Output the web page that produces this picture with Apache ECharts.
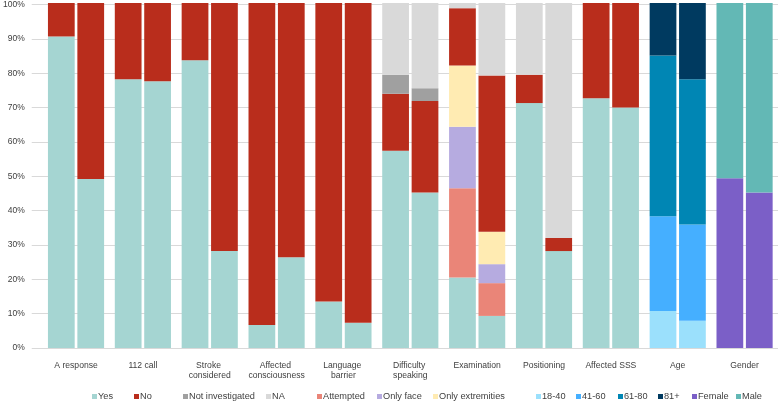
<!DOCTYPE html>
<html>
<head>
<meta charset="utf-8">
<script src="https://cdn.jsdelivr.net/npm/echarts@6/dist/echarts.min.js"></script>
<style>
html,body{margin:0;padding:0;background:#fff;}
#c{width:778px;height:403px;}
</style>
</head>
<body>
<div id="c"></div>
<script>
var categories = ['A response','112 call','Stroke considered','Affected consciousness','Language barrier','Difficulty speaking','Examination','Positioning','Affected SSS','Age','Gender'];
var yTicks = [0,10,20,30,40,50,60,70,80,90,100];

// first bar of each pair
var yes1       = [90.3, 77.9, 83.4,  6.7, 13.5, 57.2, 20.4, 71.0, 72.4, 0, 0];
var no1        = [ 9.7, 22.1, 16.6, 93.3, 86.5, 16.5, 16.6,  8.2, 27.6, 0, 0];
var notInv1    = [0, 0, 0, 0, 0, 5.5, 0, 0, 0, 0, 0];
var na1        = [0, 0, 0, 0, 0, 20.8, 1.5, 20.8, 0, 0, 0];
var attempted1 = [0, 0, 0, 0, 0, 0, 25.9, 0, 0, 0, 0];
var onlyFace1  = [0, 0, 0, 0, 0, 0, 17.8, 0, 0, 0, 0];
var onlyExt1   = [0, 0, 0, 0, 0, 0, 17.8, 0, 0, 0, 0];
var age18_1    = [0, 0, 0, 0, 0, 0, 0, 0, 0, 10.7, 0];
var age41_1    = [0, 0, 0, 0, 0, 0, 0, 0, 0, 27.5, 0];
var age61_1    = [0, 0, 0, 0, 0, 0, 0, 0, 0, 46.6, 0];
var age81_1    = [0, 0, 0, 0, 0, 0, 0, 0, 0, 15.2, 0];
var female1    = [0, 0, 0, 0, 0, 0, 0, 0, 0, 0, 49.2];
var male1      = [0, 0, 0, 0, 0, 0, 0, 0, 0, 0, 50.8];

// second bar of each pair
var yes2       = [49.0, 77.3, 28.1, 26.3,  7.3, 45.1,  9.3, 28.1, 69.7, 0, 0];
var no2        = [51.0, 22.7, 71.9, 73.7, 92.7, 26.5, 45.3,  3.8, 30.3, 0, 0];
var notInv2    = [0, 0, 0, 0, 0, 3.7, 0, 0, 0, 0, 0];
var na2        = [0, 0, 0, 0, 0, 24.7, 21.0, 68.1, 0, 0, 0];
var attempted2 = [0, 0, 0, 0, 0, 0, 9.5, 0, 0, 0, 0];
var onlyFace2  = [0, 0, 0, 0, 0, 0, 5.5, 0, 0, 0, 0];
var onlyExt2   = [0, 0, 0, 0, 0, 0, 9.4, 0, 0, 0, 0];
var age18_2    = [0, 0, 0, 0, 0, 0, 0, 0, 0, 7.9, 0];
var age41_2    = [0, 0, 0, 0, 0, 0, 0, 0, 0, 27.9, 0];
var age61_2    = [0, 0, 0, 0, 0, 0, 0, 0, 0, 42.1, 0];
var age81_2    = [0, 0, 0, 0, 0, 0, 0, 0, 0, 22.1, 0];
var female2    = [0, 0, 0, 0, 0, 0, 0, 0, 0, 0, 45.1];
var male2      = [0, 0, 0, 0, 0, 0, 0, 0, 0, 0, 54.9];

var legendNames = ['Yes','No','Not investigated','NA','Attempted','Only face','Only extremities','18-40','41-60','61-80','81+','Female','Male'];

// stacking order bottom -> top
var stackDefs = [
  {name:'Yes', color:'#A5D5D2', a:yes1, b:yes2},
  {name:'Attempted', color:'#EA8578', a:attempted1, b:attempted2},
  {name:'Only face', color:'#B6ABE0', a:onlyFace1, b:onlyFace2},
  {name:'Only extremities', color:'#FFEBB2', a:onlyExt1, b:onlyExt2},
  {name:'No', color:'#B92D1C', a:no1, b:no2},
  {name:'Not investigated', color:'#A0A0A0', a:notInv1, b:notInv2},
  {name:'NA', color:'#D9D9D9', a:na1, b:na2},
  {name:'18-40', color:'#9BE0FC', a:age18_1, b:age18_2},
  {name:'41-60', color:'#45AFFF', a:age41_1, b:age41_2},
  {name:'61-80', color:'#0086B4', a:age61_1, b:age61_2},
  {name:'81+', color:'#003A60', a:age81_1, b:age81_2},
  {name:'Female', color:'#7B5FC7', a:female1, b:female2},
  {name:'Male', color:'#63B8B5', a:male1, b:male2}
];

var txt = '#404040';
var font = '"Liberation Sans", Arial, sans-serif';

var series = [];
stackDefs.forEach(function(d){
  series.push({name:d.name, type:'bar', stack:'first', xAxisIndex:0, yAxisIndex:0,
    barGap:'10%', barCategoryGap:'16%', itemStyle:{color:d.color}, data:d.a, animation:false});
});
stackDefs.forEach(function(d){
  series.push({name:d.name, type:'bar', stack:'second', xAxisIndex:0, yAxisIndex:0,
    barGap:'10%', barCategoryGap:'16%', itemStyle:{color:d.color}, data:d.b, animation:false});
});

var legendX = [92,134,183,266,317,377,433,536,576,618,658,692,736];
var legends = legendNames.map(function(n,i){
  return {data:[n], left:legendX[i], top:391, itemWidth:5, itemHeight:5, icon:'rect',
    padding:0, itemGap:0,
    textStyle:{color:txt, fontSize:9.2, fontFamily:font, lineHeight:11, padding:[0,0,0,-4]}};
});

var option = {
  backgroundColor:'#fff',
  animation:false,
  grid:[
    {left:42.6, right:-6.3, top:3, bottom:55},
    {left:28, right:0, top:3, bottom:55}
  ],
  xAxis:[
    {type:'category', gridIndex:0, data:categories,
     axisLine:{show:false}, axisTick:{show:false},
     axisLabel:{color:txt, fontSize:8.6, fontFamily:font, lineHeight:10.5, margin:12,
       interval:0, width:60, overflow:'break', align:'center'}},
    {type:'value', gridIndex:1, show:false, min:0, max:1}
  ],
  yAxis:[
    {type:'value', gridIndex:0, min:0, max:100, interval:10, show:false, splitLine:{show:false}},
    {type:'value', gridIndex:1, min:yTicks[0], max:yTicks[yTicks.length-1], interval:10,
     axisLine:{show:false}, axisTick:{show:false},
     splitLine:{lineStyle:{color:'#D9D9D9', width:1}},
     axisLabel:{color:txt, fontSize:8.5, fontFamily:font, margin:7, formatter:'{value}%'}}
  ],
  legend:legends,
  series:series
};
// empty series keeps the second grid's axes alive
option.series.push({type:'line', xAxisIndex:1, yAxisIndex:1, data:[], silent:true});

var chart = echarts.init(document.getElementById('c'), null, {renderer:'canvas'});
chart.setOption(option);
</script>
</body>
</html>
